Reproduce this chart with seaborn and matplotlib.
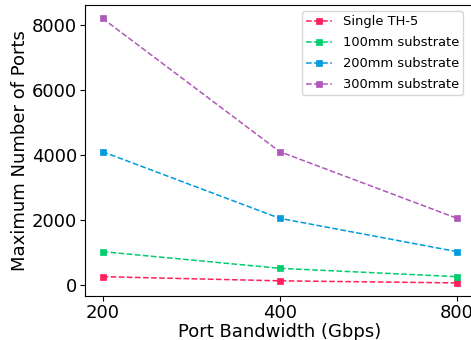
import matplotlib
matplotlib.use("Agg")
import matplotlib.pyplot as plt
import seaborn as sns
import pandas as pd

bandwidth = ["200", "400", "800"]
single_th5 = [256, 128, 64]
sub_100mm = [1024, 512, 256]
sub_200mm = [4096, 2048, 1024]
sub_300mm = [8192, 4096, 2048]
series_names = ["Single TH-5", "100mm substrate", "200mm substrate", "300mm substrate"]
colors = ["#FF1F5B", "#00CD6C", "#009ADE", "#AF58BA"]

plt.rcParams['font.family'] = ['DejaVu Sans']

rows = []
for name, vals in zip(series_names, [single_th5, sub_100mm, sub_200mm, sub_300mm]):
    for i, (b, v) in enumerate(zip(bandwidth, vals)):
        rows.append({"pos": i, "bw": b, "ports": v, "series": name})
df = pd.DataFrame(rows)

fig, ax = plt.subplots(figsize=(4.71, 3.4), dpi=100)
for name, c in zip(series_names, colors):
    sub = df[df.series == name]
    sns.lineplot(data=sub, x="pos", y="ports", ax=ax, color=c, linestyle="--",
                 marker="s", markersize=5, markeredgewidth=0.5, markeredgecolor=c,
                 linewidth=1.1, label=name)

ax.set_xticks(range(len(bandwidth)))
ax.set_xticklabels(bandwidth)
ax.set_xlabel("Port Bandwidth (Gbps)", fontsize=13, labelpad=1)
ax.set_ylabel("Maximum Number of Ports", fontsize=13, labelpad=2)
ax.tick_params(labelsize=13, pad=2, length=3.5)
ax.legend(fontsize=9.4, loc="upper right", bbox_to_anchor=(0.970, 0.979),
          borderaxespad=0.0, labelspacing=0.62, borderpad=0.3)
fig.subplots_adjust(left=0.18, right=1.008, top=0.985, bottom=0.129)
fig.savefig("out.png", dpi=100)
